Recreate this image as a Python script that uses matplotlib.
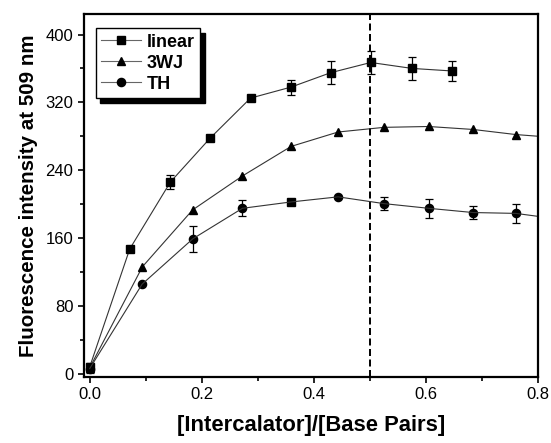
import matplotlib
matplotlib.use('Agg')
import matplotlib.pyplot as plt
from matplotlib.lines import Line2D
from matplotlib.ticker import MultipleLocator

plt.rcParams['font.family'] = ['Liberation Sans', 'DejaVu Sans']

# ---- data -------------------------------------------------------------------
lin_x = [0.0, 0.0714, 0.144, 0.2153, 0.2871, 0.3595, 0.4304, 0.5018, 0.5756, 0.647]
lin_y = [8, 147, 226, 278, 325, 338, 355, 367, 360, 357]
lin_err = [5, 0, 8.7, 0, 0, 8.8, 13.8, 14, 13.8, 11.8]

wj_x = [0.0, 0.094, 0.1835, 0.2723, 0.3595, 0.4435, 0.5256, 0.605, 0.6845, 0.7607, 0.84]
wj_y = [7, 126, 193, 233, 268, 285, 290.5, 291.5, 288, 282, 278]

th_x = [0.0, 0.0935, 0.184, 0.2726, 0.3595, 0.4435, 0.5256, 0.605, 0.6845, 0.7607, 0.84]
th_y = [6, 105.5, 159, 195, 202.5, 208.5, 200.5, 195, 190, 189, 182]
th_err = [5, 0, 15, 9.5, 0, 0, 8, 11.4, 8, 11.2, 0]
th_square_idx = 4   # this point is drawn with a square marker in the original

fig = plt.figure(figsize=(5.51, 4.43), dpi=100)
ax = fig.add_axes([0.152, 0.149, 0.824, 0.819])

lc = '#333333'
ms_sq, ms_tri, ms_circ = 5.6, 6.4, 5.9
ekw = dict(ecolor='black', elinewidth=0.9, capsize=2.6, capthick=0.9)

ax.errorbar(lin_x, lin_y, yerr=lin_err, fmt='-s', color=lc, lw=0.8, ms=ms_sq,
            mfc='black', mec='black', **ekw)
ax.plot(wj_x, wj_y, '-^', color=lc, lw=0.8, ms=ms_tri, mfc='black', mec='black')
th_mk = ['o'] * len(th_x)
th_mk[th_square_idx] = 's'
ax.errorbar(th_x, th_y, yerr=th_err, fmt='-', color=lc, lw=0.8, **ekw)
for xi, yi, m in zip(th_x, th_y, th_mk):
    ax.plot(xi, yi, m, color='black', ms=ms_circ if m == 'o' else ms_sq)

ax.axvline(0.5, color='black', ls=(0, (3.6, 1.8)), lw=1.4)

ax.set_xlim(-0.0107, 0.8)
ax.set_ylim(-4, 424)
ax.xaxis.set_major_locator(MultipleLocator(0.2))
ax.xaxis.set_minor_locator(MultipleLocator(0.1))
ax.yaxis.set_major_locator(MultipleLocator(80))
ax.yaxis.set_minor_locator(MultipleLocator(40))
ax.xaxis.set_major_formatter(matplotlib.ticker.FormatStrFormatter('%.1f'))
ax.tick_params(which='both', direction='out', top=False, right=False,
               labelsize=12, width=1.2)
ax.tick_params(which='major', length=4)
ax.tick_params(which='minor', length=3)
for s in ax.spines.values():
    s.set_linewidth(1.6)

ax.set_xlabel('[Intercalator]/[Base Pairs]', fontsize=15.8, fontweight='bold', labelpad=9)
ax.set_ylabel('Fluorescence intensity at 509 nm', fontsize=14.8, fontweight='bold')
ax.yaxis.set_label_coords(-0.1, 0.5)

# legend: line - marker - line, like the original
handles = [Line2D([], [], color='#666666', lw=0.8, marker=m, ms=s, mfc='black', mec='black')
           for m, s in [('s', ms_sq), ('^', ms_tri), ('o', ms_circ)]]
leg = ax.legend(handles, ['linear', '3WJ', 'TH'], loc='upper left',
                bbox_to_anchor=(0.026, 0.961), borderaxespad=0,
                fancybox=False, edgecolor='black', framealpha=1,
                shadow={'ox': 3.5, 'oy': -3.5, 'color': 'black', 'alpha': 1},
                prop={'weight': 'bold', 'size': 13}, handlelength=2.2,
                handletextpad=0.35, borderpad=0.3, labelspacing=0.22)
leg.get_frame().set_linewidth(1.0)

fig.savefig('out.png', dpi=100)
